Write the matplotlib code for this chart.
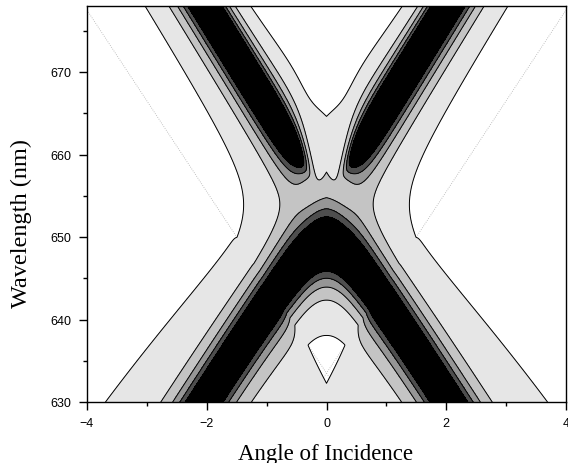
import numpy as np
import matplotlib
matplotlib.use("Agg")
import matplotlib.pyplot as plt

# dispersion of the two branches (nm, nm per unit angle, nm)
lower_centre, lower_slope, lower_gap = 654.0, 11.5, 5.0
upper_centre, upper_slope, upper_gap = 654.3, 11.8, 1.5
# dip depth, half widths below / above the branch (nm), tail exponents
lower_depth, lower_width, lower_power = 1.1, [2.8, 3.0], [1.0, 1.0]
upper_depth, upper_width, upper_power = 1.41, [2.7, 3.0], [1.0, 1.5]
upper_fade = 0.48            # angle below which the upper branch dies out
# weak diffuse band between the upper arms: depth, centre, slope, width, angular range
diffuse = [0.072, 660.0, 11.8, 4.0, 0.9]
# Rayleigh anomaly lines: crossing wavelength, slope
rayleigh_centre, rayleigh_slope = 633.5, 11.0
# extra absorption below the Rayleigh lines
side_step, side_ramp, side_decay = 0.003, 0.045, 25.0   # outside the lower branch
inner_step, inner_edge = 0.06, 1.2                        # inside the lower branch

levels = [0.07, 0.169, 0.261, 0.366, 0.49, 5.0]
shades = ["#e6e6e6", "#c4c4c4", "#969696", "#4e4e4e", "#000000"]

angle = np.linspace(-4, 4, 801)
wavelength = np.linspace(630, 678, 481)
X, L = np.meshgrid(angle, wavelength)


def branch_dip(centre, depth, width, power, narrow=1.0):
    below = L < centre
    w = np.where(below, width[0] * narrow, width[1])
    p = np.where(below, power[0], power[1])
    return depth / (1 + ((L - centre) / w) ** 2) ** p


lam_low = lower_centre - np.sqrt((lower_slope * X) ** 2 + lower_gap ** 2)
lam_up = upper_centre + np.sqrt((upper_slope * X) ** 2 + upper_gap ** 2)
fade = X ** 4 / (X ** 4 + upper_fade ** 4)

dip = branch_dip(lam_low, lower_depth, lower_width, lower_power)
# the upper arms also get thinner towards their tips
dip += fade * branch_dip(lam_up, upper_depth, upper_width, upper_power, 0.5 + 0.5 * fade)
lam_dif = diffuse[1] + diffuse[2] * np.abs(X)
dip += diffuse[0] / (1 + (X / diffuse[4]) ** 2) / (1 + ((L - lam_dif) / diffuse[3]) ** 2)

below = np.clip(rayleigh_centre + rayleigh_slope * np.abs(X) - L, 0, None)
outer = side_step * (1 - np.exp(-below / 0.5)) + side_ramp * (1 - np.exp(-below / side_decay))
inner = inner_step * (1 - np.exp(-below / inner_edge))
dip += np.where(L < lam_low, inner, outer)

fig = plt.figure(figsize=(5.68, 4.64), dpi=100)
ax = fig.add_axes([87 / 568, 61 / 464, 479 / 568, 396 / 464])

# faint Rayleigh lines, only visible where the map is white
for sign in (-1, 1):
    ax.plot(angle, rayleigh_centre + sign * rayleigh_slope * angle,
            ls=":", lw=0.6, color="#b0b0b0", zorder=0)

ax.contourf(X, L, dip, levels=levels, colors=shades, zorder=1)
ax.contour(X, L, dip, levels=levels[:-1], colors="k", linewidths=0.7, zorder=2)

ax.set_xlim(-4, 4)
ax.set_ylim(630, 678)
ax.set_xticks([-4, -2, 0, 2, 4])
ax.set_xticks([-3, -1, 1, 3], minor=True)
ax.set_yticks([630, 640, 650, 660, 670])
ax.set_yticks([635, 645, 655, 665, 675], minor=True)
ax.tick_params(which="major", direction="out", length=6, width=1, pad=5)
ax.tick_params(which="minor", direction="out", length=3, width=1)
for lab in ax.get_xticklabels() + ax.get_yticklabels():
    lab.set_family("Liberation Sans")
    lab.set_fontsize(9)
for sp in ax.spines.values():
    sp.set_linewidth(1.0)

fig.text(326 / 568, 1 - 460 / 464, "Angle of Incidence", family="Liberation Serif",
         fontsize=16.5, ha="center", va="baseline")
fig.text(21 / 568, 1 - 223 / 464, "Wavelength (nm)", family="Liberation Serif",
         fontsize=17.5, ha="center", va="center", rotation=90)

fig.savefig("out.png", dpi=100)
